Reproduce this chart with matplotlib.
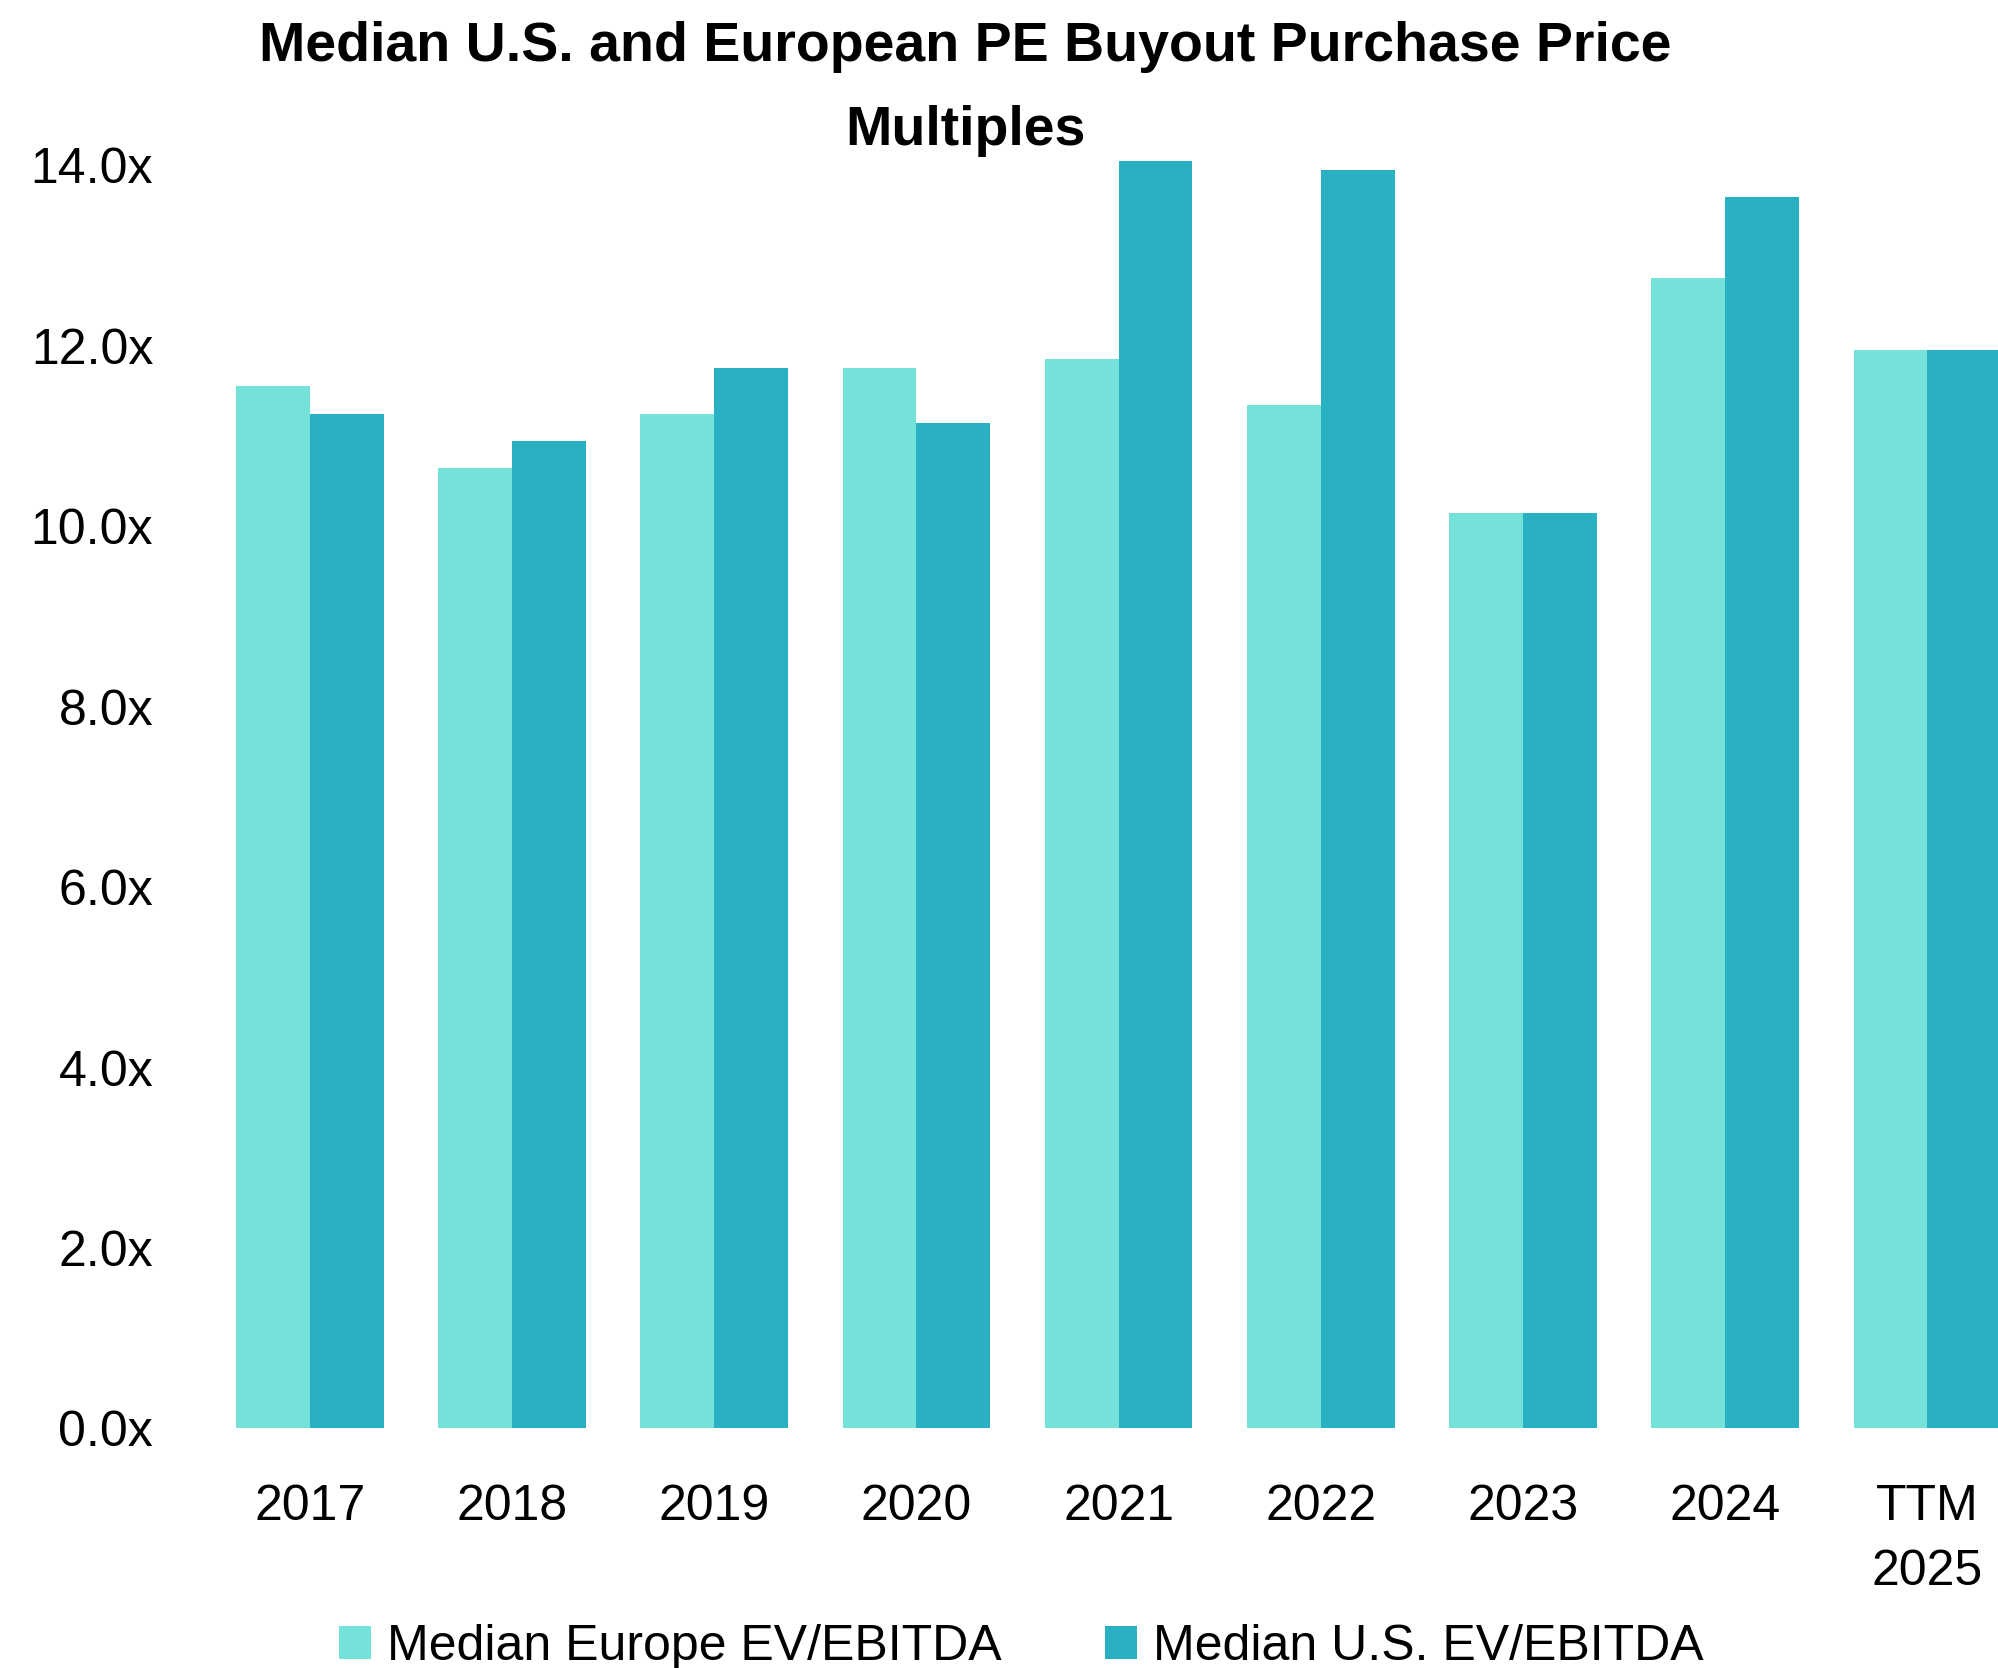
import matplotlib
matplotlib.use("Agg")
import matplotlib.pyplot as plt
import numpy as np

plt.rcParams['font.family'] = ['Liberation Sans', 'DejaVu Sans']

categories = ["2017", "2018", "2019", "2020", "2021", "2022", "2023", "2024", "TTM\n2025"]
europe = [11.55, 10.65, 11.25, 11.75, 11.85, 11.35, 10.15, 12.75, 11.95]
us = [11.25, 10.95, 11.75, 11.15, 14.05, 13.95, 10.15, 13.65, 11.95]
yticks = [0, 2, 4, 6, 8, 10, 12, 14]
ytick_labels = ["0.0x", "2.0x", "4.0x", "6.0x", "8.0x", "10.0x", "12.0x", "14.0x"]

c_eu = "#75E2D9"
c_us = "#2AB0C3"

fig = plt.figure(figsize=(19.99, 16.68), dpi=100)
ax = fig.add_axes([0.1044, 0.1436, 0.9104, 0.7572])

x = np.arange(len(categories))
w = 0.365
ax.bar(x - w / 2, europe, width=w, color=c_eu, label="Median Europe EV/EBITDA", clip_on=False)
ax.bar(x + w / 2, us, width=w, color=c_us, label="Median U.S. EV/EBITDA", clip_on=False)

ax.set_xlim(-0.5, len(categories) - 0.5)
ax.set_ylim(0, 14)
ax.set_yticks(yticks)
ax.set_yticklabels(ytick_labels)
ax.set_xticks(x)
ax.set_xticklabels(categories, linespacing=1.52)
ax.tick_params(axis='both', length=0, labelsize=36)
ax.tick_params(axis='y', pad=40)
ax.tick_params(axis='x', pad=40)
for s in ax.spines.values():
    s.set_visible(False)

fig.text(0.483, 0.9465, "Median U.S. and European PE Buyout Purchase Price\nMultiples",
         ha='center', va='center', fontsize=40, fontweight='bold', linespacing=1.8)

fig.legend(loc='center', bbox_to_anchor=(0.511, 0.0126), ncol=2, frameon=False,
           fontsize=36, handlelength=0.64, handleheight=0.64, handletextpad=0.32,
           columnspacing=2.08, borderaxespad=0, borderpad=0)

fig.savefig("out.png", dpi=100)
